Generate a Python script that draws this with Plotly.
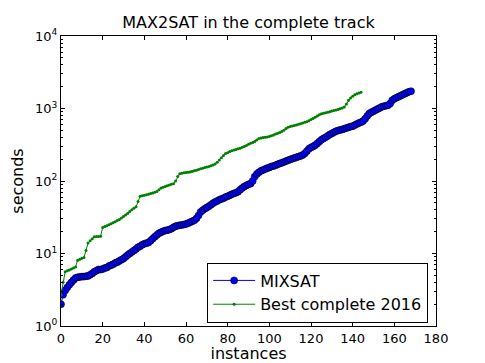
"""
MAX2SAT cactus plot: MIXSAT vs best complete solver 2016
"""
import plotly.graph_objects as go

# sorted solve times (seconds), one per solved instance
mixsat_times = [
    2.0, 2.7, 3.1, 3.4, 3.7, 4.0, 4.3, 4.6, 4.7, 4.75,
    4.8, 4.8, 4.85, 4.9, 5.1, 5.3, 5.6, 5.8, 6.0, 6.0,
    6.1, 6.3, 6.4, 6.7, 6.9, 7.1, 7.4, 7.6, 7.9, 8.2,
    8.5, 9.0, 9.5, 10.0, 10.5, 11.0, 11.5, 12.2, 12.6, 13.2,
    13.6, 13.9, 14.2, 15.0, 16.0, 17.0, 18.0, 19.0, 19.6, 20.2,
    20.7, 21.0, 21.4, 22.0, 23.0, 23.8, 24.2, 24.5, 24.8, 25.1,
    25.5, 26.2, 27.0, 27.8, 28.7, 30.5, 33.5, 37.4, 39.5, 41.5,
    43.0, 45.0, 47.0, 49.5, 51.5, 53.0, 55.0, 56.5, 58.0, 60.0,
    61.6, 63.5, 65.5, 67.5, 69.0, 71.0, 76.0, 80.0, 84.0, 87.0,
    90.0, 92.0, 100.0, 115.0, 125.0, 132.0, 138.0, 142.0, 146.0, 150.0,
    154, 158, 161, 165, 170, 174, 178, 183, 188, 193,
    198, 203, 207, 212, 217, 222, 228, 240, 258, 278,
    290, 300, 312, 330, 350, 370, 387, 400, 418, 437,
    452, 470, 485, 497, 507, 514, 525, 537, 550, 562,
    571, 590, 610, 630, 648, 670, 720, 790, 854, 890,
    920, 950, 985, 1020, 1055, 1075, 1095, 1110, 1170, 1300,
    1360, 1410, 1450, 1500, 1550, 1600, 1650, 1700, 1730,
]

best2016_times = [
    2.7, 4.0, 5.6, 5.8, 5.9, 6.1, 6.3, 6.5, 8.1, 8.3,
    8.6, 8.8, 11.0, 14.0, 15.0, 16.0, 17.0, 17.1, 17.2, 17.3,
    22.8, 23.5, 24.2, 25.0, 25.8, 26.5, 27.5, 28.5, 29.4, 31.0,
    32.5, 34.0, 35.6, 38.0, 40.0, 42.0, 44.0, 52.0, 61.6, 62.5,
    63.5, 64.5, 65.7, 67.0, 68.5, 70.0, 71.5, 76.0, 80.0, 82.0,
    84.0, 86.0, 88.0, 90.0, 92.0, 100.0, 115.0, 126.0, 128.0, 130.0,
    131.0, 132.0, 133.0, 135.0, 138.0, 141.0, 144.0, 147.0, 150.0, 153.0,
    156.0, 158.0, 162.0, 166.0, 172.0, 182.0, 195.0, 210.0, 225.0, 240.0,
    246.0, 255.0, 262.0, 268.0, 273.0, 278.0, 284.0, 292.0, 300.0, 310.0,
    322.0, 332.0, 340.0, 352.0, 368.0, 385.0, 392.0, 397.0, 401.0, 405.0,
    410.0, 420.0, 432.0, 444.0, 456.0, 465.0, 480.0, 500.0, 530.0, 550.0,
    565.0, 575.0, 585.0, 592.0, 605.0, 618.0, 632.0, 645.0, 658.0, 680.0,
    705.0, 730.0, 760.0, 790.0, 820.0, 845.0, 860.0, 875.0, 890.0, 905.0,
    925.0, 940.0, 955.0, 970.0, 990.0, 1020.0, 1050.0, 1150.0, 1300.0, 1400.0,
    1480.0, 1550.0, 1600.0, 1640.0, 1670.0,
]

x_ticks = [0, 20, 40, 60, 80, 100, 120, 140, 160, 180]
y_ticks = [1, 10, 100, 1000, 10000]
y_tick_text = ['10<sup>0</sup>', '10<sup>1</sup>', '10<sup>2</sup>',
               '10<sup>3</sup>', '10<sup>4</sup>']

FONT = 'DejaVu Sans'

mixsat = go.Scatter(x=list(range(len(mixsat_times))),
                    y=mixsat_times,
                    mode='lines+markers',
                    name='MIXSAT',
                    line=dict(color='#0000ff', width=1),
                    marker=dict(color='#0000ff', size=7,
                                line=dict(color='#000000', width=0.6)),
                    )
best = go.Scatter(x=list(range(len(best2016_times))),
                  y=best2016_times,
                  mode='lines+markers',
                  name='Best complete 2016',
                  line=dict(color='#008000', width=1),
                  marker=dict(color='#008000', size=3),
                  )

# page body has an 8px default margin, so the figure is 8px smaller
fig = go.Figure(data=[mixsat, best])
fig.update_layout(
    width=477, height=355,
    margin=dict(l=53, r=49, t=28, b=37),
    paper_bgcolor='white', plot_bgcolor='white',
    font=dict(family=FONT, size=13, color='black'),
    title=dict(text='MAX2SAT in the complete track', x=0.5, xref='paper',
               xanchor='center', yref='container', y=1 - 14 / 355,
               yanchor='middle', font=dict(size=16)),
    legend=dict(x=0.979, y=0.012, xanchor='right', yanchor='bottom',
                bordercolor='black', borderwidth=1, bgcolor='white',
                font=dict(size=16), itemwidth=42, tracegroupgap=0),
)
fig.update_xaxes(range=[0, 180], tickvals=x_ticks, ticks='inside',
                 ticklen=4, tickcolor='black', showgrid=False, zeroline=False,
                 showline=True, linecolor='black', linewidth=1,
                 mirror='allticks', automargin=False,
                 title=dict(text='instances', standoff=3))
fig.update_yaxes(type='log', range=[0, 4], tickvals=y_ticks,
                 ticktext=y_tick_text, ticks='inside', ticklen=4,
                 tickcolor='black', showgrid=False, zeroline=False,
                 showline=True, linecolor='black', linewidth=1,
                 mirror='allticks', automargin=False,
                 minor=dict(ticks='inside', ticklen=2, tickcolor='black',
                            dtick='D1', showgrid=False),
                 title=dict(text='seconds', standoff=10))

fig.write_html("out.html")
